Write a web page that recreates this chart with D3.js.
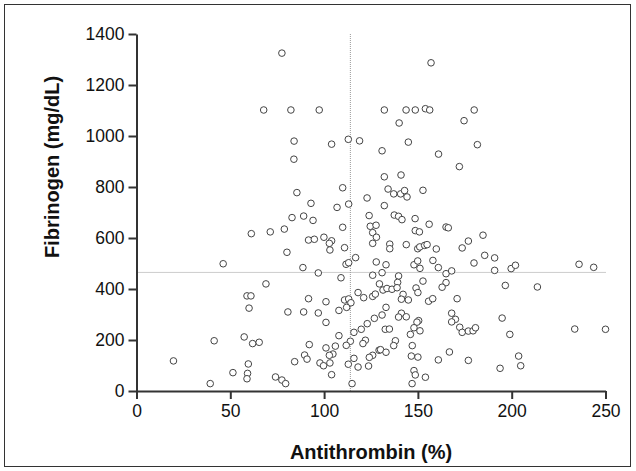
<!DOCTYPE html>
<html>
<head>
<meta charset="utf-8">
<script src="https://cdnjs.cloudflare.com/ajax/libs/d3/7.8.5/d3.min.js"></script>
<style>
  body { margin: 0; background: #fff; }
  text { font-family: "Liberation Sans", Arial, sans-serif; }
</style>
</head>
<body>
<div id="chart"></div>
<script>
// antithrombin (%) values
var antithrombin = [
  77.5, 67.8, 82.3, 97.4, 84, 104, 112.9, 118.9, 157, 132.1, 143.7, 148.6, 154, 156.3, 180, 140, 174.6, 144.9, 181.7, 130.9, 161,
  61.2, 46.2,
  83.9, 85.5, 109.9, 93, 122.9, 106.9, 113.1, 82.9, 89.1, 94.1, 124, 71.3, 78.8, 109.9, 124.6, 127.7, 125.9, 127.9, 125.9,
  91.7, 94.8, 99.9, 104, 102.8, 103.1, 110.9, 80.2, 116.8, 111.7, 113.1, 127.8, 88.7, 96.9, 109, 125.9,
  172.1, 132.1, 141, 134.1, 137.1, 140.8, 142.9, 144.2, 152.7, 132.1, 137.4, 139.7, 141.5, 148.5, 156, 165, 166.2, 148.6, 150.8,
  135, 135, 143.8, 149.9, 151, 153.6, 154.9, 159.8, 184.7, 176.9, 173.6, 185.6, 190.9, 179.9, 190.9, 133, 147.9, 149.9, 151.1,
  158, 160.9, 165, 168, 130.9, 139.7,
  199.7, 202, 235.9, 243.7,
  58.9, 61, 60, 19.7, 41.4, 57.4, 61.9, 65.4, 59.6, 51.4, 59.2, 58.9, 39.3,
  69, 91.7, 101, 80.7, 89.1, 96.9, 101, 107.9, 110.9, 113.1, 114.3, 112, 118.1, 121.1, 125.9, 127.3, 126.8, 123, 119.8, 115.9,
  107.9, 114, 111.8, 122, 120.7, 129.3, 106, 101, 92.1, 104.7, 102.8, 89.6, 90.9, 84.3, 97.8, 99.7, 103.1, 112.9, 115.9, 118.1,
  123.7, 125.9, 124.1, 104, 74.1, 77.5, 79.5, 114.9, 129.5,
  139.2, 152.7, 165, 162.9, 131.4, 133.5, 136.2, 138.9, 149, 150, 142.1, 141.2, 144.9, 155.7, 157.9, 170.9, 133, 130.9, 141.2,
  139.7, 143.8, 150.4, 149.5, 147.9, 151.1, 146, 132.6, 134.8, 138, 137.1, 130.1, 133, 147, 146.5, 150, 160.9, 166.8, 176.9,
  147.9, 148.6, 154, 146.9, 168, 170, 168, 172.3, 173.6, 176.9, 179.4, 180.7,
  196.6, 213.7, 194.9, 199, 233.6, 250, 203.7, 204.8, 193.8
];
// fibrinogen (mg/dL) values, same order
var fibrinogen = [
  1325, 1102, 1102, 1102, 980, 968, 987, 981, 1287, 1102, 1102, 1102, 1107, 1102, 1102, 1051, 1060, 976, 966, 942, 929,
  617, 499,
  909, 778, 797, 736, 757, 720, 733, 680, 686, 669, 688, 624, 635, 642, 646, 650, 621, 603, 579,
  592, 595, 603, 589, 579, 553, 562, 544, 523, 497, 503, 506, 484, 463, 444, 454,
  880, 840, 847, 792, 773, 773, 786, 761, 787, 727, 690, 685, 672, 676, 654, 643, 640, 629, 624,
  576, 558, 574, 558, 565, 571, 574, 557, 611, 588, 561, 532, 522, 502, 473, 495, 495, 510, 481,
  512, 484, 460, 471, 464, 451,
  480, 493, 497, 485,
  373, 373, 325, 118, 197, 212, 186, 191, 106, 72, 69, 48, 29,
  420, 362, 350, 310, 310, 306, 269, 316, 357, 361, 346, 328, 386, 366, 371, 380, 285, 264, 242, 230,
  217, 195, 179, 199, 186, 160, 176, 169, 182, 145, 140, 141, 125, 115, 110, 99, 110, 105, 128, 94,
  98, 140, 132, 64, 55, 43, 29, 29, 420,
  426, 431, 425, 407, 396, 402, 399, 405, 404, 386, 379, 360, 357, 352, 362, 362, 328, 298, 305,
  290, 291, 276, 270, 248, 236, 222, 242, 243, 197, 178, 162, 152, 178, 137, 133, 122, 153, 120,
  80, 63, 54, 29, 305, 281, 271, 250, 230, 235, 236, 248,
  414, 408, 286, 222, 243, 242, 137, 99, 89
];
var xTicks = [0, 50, 100, 150, 200, 250];
var yTicks = [0, 200, 400, 600, 800, 1000, 1200, 1400];
var refX = 114;   // vertical reference line
var refY = 465;   // horizontal reference line

var w = 636, h = 471;
var svg = d3.select("#chart").append("svg")
    .attr("width", w).attr("height", h);

// outer frame
svg.append("rect")
    .attr("x", 4.5).attr("y", 4.5)
    .attr("width", 626).attr("height", 462)
    .attr("fill", "none")
    .attr("stroke", "#333")
    .attr("stroke-width", 1);

var x = d3.scaleLinear().domain([0, 250]).range([136.5, 605.5]);
var y = d3.scaleLinear().domain([0, 1400]).range([391, 34]);

var xAxis = d3.axisBottom(x).tickValues(xTicks).tickSize(8).tickSizeOuter(0).tickPadding(6)
    .tickFormat(d3.format("d"));
var yAxis = d3.axisLeft(y).tickValues(yTicks).tickSize(8).tickSizeOuter(0).tickPadding(4)
    .tickFormat(d3.format("d"));

// reference lines
svg.append("line")
    .attr("x1", x(refX)).attr("x2", x(refX))
    .attr("y1", y(1400)).attr("y2", y(0))
    .attr("stroke", "#999").attr("stroke-width", 1)
    .attr("stroke-dasharray", "1,1");
svg.append("line")
    .attr("x1", x(0)).attr("x2", x(250))
    .attr("y1", y(refY)).attr("y2", y(refY))
    .attr("stroke", "#999").attr("stroke-width", 1)
    .attr("stroke-dasharray", "1,1");

var gx = svg.append("g").attr("transform", "translate(0," + y(0) + ")").call(xAxis);
var gy = svg.append("g").attr("transform", "translate(" + x(0) + ",0)").call(yAxis);

[gx, gy].forEach(function(g){
    g.select(".domain").attr("stroke", "#333").attr("stroke-width", 2);
    g.selectAll(".tick line").attr("stroke", "#333").attr("stroke-width", 2);
    g.selectAll(".tick text").attr("fill", "#111").style("font-size", "17.5px");
});

// points
svg.selectAll("circle.pt")
    .data(antithrombin)
    .enter()
    .append("circle")
    .attr("class", "pt")
    .attr("cx", function(d){ return x(d); })
    .attr("cy", function(d, i){ return y(fibrinogen[i]); })
    .attr("r", 3.3)
    .attr("fill", "#fff")
    .attr("stroke", "#444")
    .attr("stroke-width", 1);

// axis titles
svg.append("text")
    .attr("x", x(125)).attr("y", 459)
    .attr("text-anchor", "middle")
    .style("font-size", "20px").style("font-weight", "bold")
    .attr("fill", "#111")
    .text("Antithrombin (%)");

svg.append("text")
    .attr("transform", "translate(59,167) rotate(-90)")
    .attr("text-anchor", "middle")
    .style("font-size", "20px").style("font-weight", "bold")
    .attr("fill", "#111")
    .text("Fibrinogen (mg/dL)");
</script>
</body>
</html>
